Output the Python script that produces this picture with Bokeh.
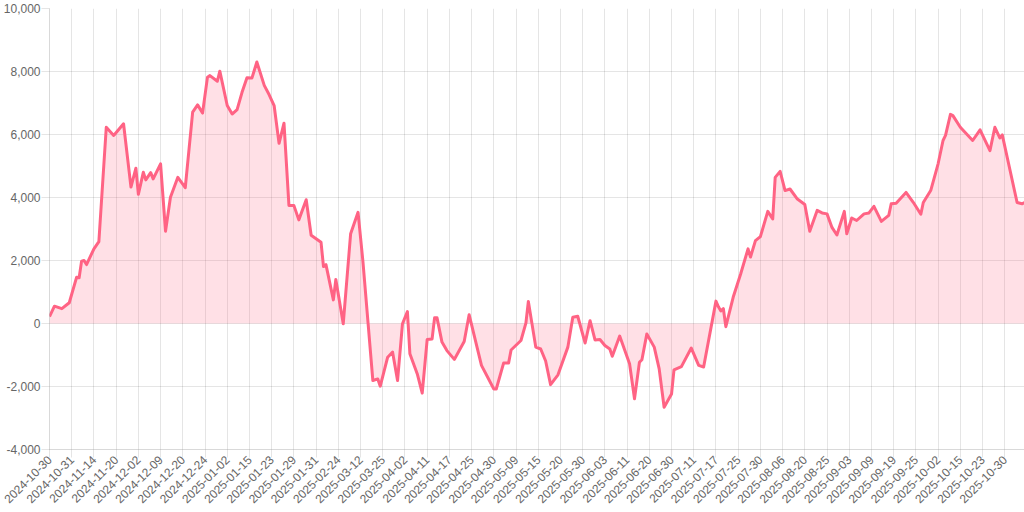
import math
from bokeh.plotting import figure
from bokeh.models import Range1d, FixedTicker, NumeralTickFormatter, ColumnDataSource
from bokeh.embed import file_html
from bokeh.resources import INLINE

# Tick labels (one shown every LABEL_STEP points of the series)
tick_labels = [
    "2024-10-30", "2024-10-31", "2024-11-14", "2024-11-20", "2024-12-02", "2024-12-09",
    "2024-12-20", "2024-12-24", "2025-01-02", "2025-01-15", "2025-01-23", "2025-01-29",
    "2025-01-31", "2025-02-24", "2025-03-12", "2025-03-25", "2025-04-02", "2025-04-11",
    "2025-04-17", "2025-04-25", "2025-04-30", "2025-05-09", "2025-05-15", "2025-05-20",
    "2025-05-30", "2025-06-03", "2025-06-11", "2025-06-20", "2025-06-30", "2025-07-11",
    "2025-07-17", "2025-07-25", "2025-07-30", "2025-08-06", "2025-08-20", "2025-08-25",
    "2025-09-03", "2025-09-09", "2025-09-19", "2025-09-25", "2025-10-02", "2025-10-15",
    "2025-10-23", "2025-10-30",
]
LABEL_STEP = 9
N_POINTS = 396

# Series: point index and cumulative value
point_index = [
    0, 2, 5, 8, 11, 12, 13, 14, 15, 18, 20, 23, 26, 30, 33, 35, 36, 38, 39, 41,
    42, 45, 47, 49, 52, 55, 58, 60, 62, 64, 65, 68, 69, 72, 74, 76, 78, 80, 82, 84,
    87, 89, 91, 93, 95, 97, 99, 101, 104, 106, 110, 111, 112, 115, 116, 119, 122, 125, 127, 131,
    133, 134, 137, 139, 141, 143, 145, 146, 149, 151, 153, 155, 156, 157, 159, 161, 164, 168, 170, 175,
    180, 181, 184, 186, 187, 191, 193, 194, 197, 199, 201, 203, 206, 210, 212, 214, 217, 219, 221, 223,
    225, 227, 228, 231, 235, 237, 239, 240, 242, 245, 247, 249, 252, 253, 256, 260, 263, 265, 270, 271,
    272, 273, 274, 277, 280, 283, 284, 286, 288, 291, 293, 294, 296, 298, 300, 303, 306, 308, 311, 313,
    315, 317, 319, 322, 323, 325, 327, 330, 332, 334, 337, 340, 341, 343, 347, 350, 353, 354, 357, 360,
    362, 363, 365, 366, 369, 374, 377, 381, 383, 385, 386, 392, 394, 395,
]
values = [
    220, 550, 470, 660, 1470, 1450, 1980, 2000, 1870, 2370, 2600, 6230, 5970, 6340, 4330, 4930, 4100, 4800, 4560, 4790,
    4590, 5070, 2930, 4010, 4640, 4310, 6710, 6940, 6680, 7820, 7870, 7690, 8010, 6920, 6650, 6790, 7340, 7800, 7790, 8300,
    7560, 7260, 6920, 5720, 6360, 3750, 3750, 3290, 3930, 2800, 2580, 1810, 1870, 750, 1400, -10, 2850, 3530, 1950, -1810,
    -1760, -1990, -1070, -910, -1810, -10, 380, -960, -1600, -2210, -510, -490, 180, 180, -590, -860, -1140, -570, 280, -1330,
    -2080, -2080, -1250, -1250, -840, -540, 10, 700, -750, -810, -1190, -1940, -1630, -750, 200, 230, -620, 90, -520, -510,
    -700, -810, -1040, -400, -1280, -2390, -1230, -1150, -330, -750, -1440, -2660, -2240, -1470, -1370, -780, -1330, -1380, 710, 530,
    400, 470, -100, 840, 1570, 2370, 2110, 2630, 2760, 3560, 3320, 4640, 4830, 4220, 4270, 3950, 3780, 2930, 3590, 3510,
    3480, 3050, 2810, 3560, 2850, 3350, 3270, 3480, 3510, 3720, 3240, 3430, 3800, 3820, 4160, 3840, 3470, 3840, 4220, 5070,
    5810, 5970, 6640, 6600, 6230, 5810, 6150, 5490, 6230, 5890, 5990, 3840, 3800, 3840,
]
y_ticks = [-4000, -2000, 0, 2000, 4000, 6000, 8000, 10000]

LINE = "#ff6384"
GRID = "rgba(0,0,0,0.1)"
TXT = "#666666"
FONT = "Liberation Sans"

src = ColumnDataSource(dict(x=point_index, y=values, zero=[0] * len(values)))

p = figure(
    width=1024, height=510,
    output_backend="svg", toolbar_location=None,
    x_range=Range1d(0, N_POINTS - 1), y_range=Range1d(y_ticks[0], y_ticks[-1]),
    min_border_left=0, min_border_right=0, min_border_top=8, min_border_bottom=0,
)
p.outline_line_color = None
p.background_fill_color = "white"
p.border_fill_color = "white"

p.varea(x="x", y1="zero", y2="y", source=src, fill_color=LINE, fill_alpha=0.2)
p.line(x="x", y="y", source=src, line_color=LINE, line_width=3, line_join="round")

tick_pos = [i * LABEL_STEP for i in range(len(tick_labels))]
p.xaxis.ticker = FixedTicker(ticks=tick_pos)
p.xaxis.major_label_overrides = {t: lab for t, lab in zip(tick_pos, tick_labels)}
p.xaxis.major_label_orientation = math.pi / 4
p.yaxis.ticker = FixedTicker(ticks=y_ticks)
p.yaxis.formatter = NumeralTickFormatter(format="0,0")

for ax in (p.xaxis[0], p.yaxis[0]):
    ax.axis_line_color = "rgba(0,0,0,0.15)"
    ax.major_tick_line_color = GRID
    ax.major_tick_out = 8
    ax.major_tick_in = 0
    ax.minor_tick_line_color = None
    ax.major_label_text_font = FONT
    ax.major_label_text_font_size = "12px"
    ax.major_label_text_color = TXT
p.yaxis.major_label_standoff = 1
p.xaxis.major_label_standoff = 0

p.xgrid.grid_line_color = GRID
p.ygrid.grid_line_color = GRID

open("out.html", "w").write(file_html(p, INLINE))
